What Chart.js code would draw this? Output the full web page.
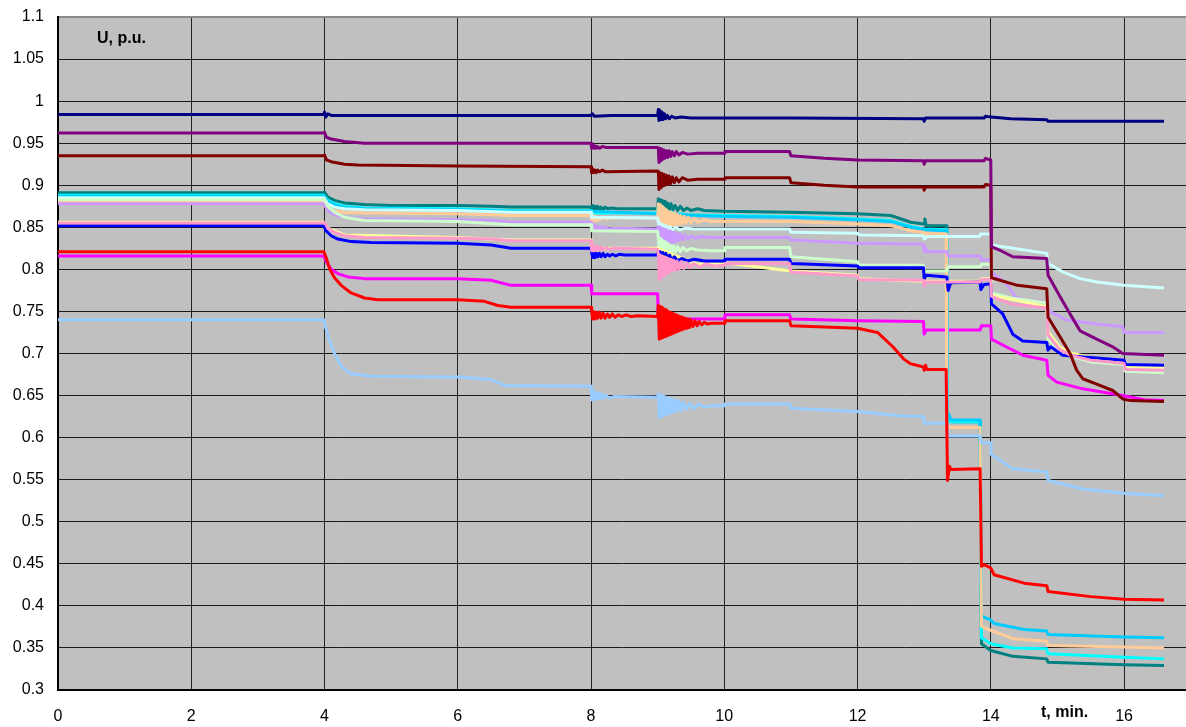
<!DOCTYPE html>
<html>
<head>
<meta charset="utf-8">
<script src="https://cdn.jsdelivr.net/npm/chart.js@4.4.1/dist/chart.umd.min.js"></script>
<style>
  html, body { margin: 0; padding: 0; background: #ffffff; }
  #wrap { width: 1186px; height: 727px; position: relative; }
  canvas { display: block; }
</style>
</head>
<body>
<div id="wrap"><canvas id="chart" width="1186" height="727"></canvas></div>
<script>
// Voltage trajectories U (p.u.) versus time t (min) at sixteen network nodes.
// Each array holds [t, U] pairs; the dense stretches after t = 8 and t = 9
// are the electromechanical swings that follow each switching event.

const yTitle = 'U, p.u.';
const xTitle = 't, min.';
const xTicks = [0, 2, 4, 6, 8, 10, 12, 14, 16];
const yTicks = [0.3, 0.35, 0.4, 0.45, 0.5, 0.55, 0.6, 0.65, 0.7, 0.75, 0.8, 0.85, 0.9, 0.95, 1, 1.05, 1.1];

const nodeNavy = [[0,0.984],[3.99,0.984],[4.0,0.987],[4.02,0.981],[4.05,0.985],[4.1,0.983],[8.0,0.983],[8.02,0.985],[8.05,0.982],[8.3,0.983],
  [9.000,0.983],[9.010,0.990],[9.020,0.977],[9.035,0.989],[9.050,0.978],[9.065,0.987],[9.080,0.978],[9.100,0.985],[9.120,0.979],[9.145,0.983],[9.175,0.979],[9.210,0.982],[9.260,0.980],[9.350,0.981],[9.500,0.980],
  [11,0.980],[12.99,0.979],[13.0,0.976],[13.02,0.980],[13.9,0.980],[13.92,0.982],[14.0,0.981],[14.3,0.979],[14.84,0.978],[14.86,0.976],[16.6,0.976]];

const nodePurple = [[0,0.962],[3.99,0.962],[4.0,0.963],[4.03,0.957],[4.1,0.955],[4.3,0.952],[4.6,0.950],
  [8.0,0.950],[8.01,0.944],[8.025,0.948],[8.04,0.944],[8.06,0.947],[8.08,0.944],[8.1,0.946],[8.13,0.944],[8.17,0.946],[8.22,0.945],
  [9.000,0.945],[9.010,0.944],[9.020,0.927],[9.035,0.944],[9.050,0.929],[9.065,0.943],[9.080,0.931],[9.095,0.942],[9.110,0.932],[9.130,0.941],[9.150,0.933],[9.170,0.941],[9.195,0.934],[9.220,0.940],[9.250,0.935],[9.280,0.940],[9.320,0.936],[9.370,0.939],[9.450,0.937],[9.600,0.938],
  [10.0,0.938],[10.01,0.940],[10.98,0.940],[11.0,0.935],[11.5,0.932],[12,0.930],[12.99,0.929],[13.0,0.925],[13.02,0.929],[13.9,0.929],[13.92,0.932],[14.0,0.930],
  [14.01,0.827],[14.13,0.823],[14.33,0.815],[14.84,0.813],[14.86,0.793],[15.03,0.769],[15.19,0.747],[15.34,0.727],[15.59,0.717],[15.83,0.708],[15.98,0.700],[16.6,0.698]];

const nodeMaroon = [[0,0.935],[3.99,0.935],[4.0,0.936],[4.03,0.930],[4.1,0.928],[4.3,0.925],[4.5,0.924],[6,0.923],
  [8,0.922],[8.01,0.915],[8.025,0.919],[8.04,0.915],[8.06,0.918],[8.08,0.915],[8.1,0.918],[8.13,0.916],[8.17,0.918],[8.22,0.916],
  [9.000,0.917],[9.010,0.916],[9.020,0.895],[9.035,0.915],[9.050,0.897],[9.065,0.914],[9.080,0.899],[9.095,0.913],[9.110,0.900],[9.130,0.912],[9.150,0.901],[9.170,0.911],[9.195,0.902],[9.220,0.910],[9.250,0.903],[9.280,0.909],[9.320,0.904],[9.370,0.909],[9.450,0.906],[9.600,0.907],
  [10,0.907],[10.01,0.909],[10.98,0.909],[11.0,0.903],[11.5,0.900],[12,0.898],[12.99,0.898],[13.0,0.894],[13.02,0.898],[13.9,0.898],[13.92,0.901],[14.0,0.900],
  [14.01,0.790],[14.4,0.781],[14.84,0.777],[14.86,0.743],[15.03,0.721],[15.19,0.700],[15.29,0.680],[15.38,0.670],[15.58,0.664],[15.83,0.656],[15.98,0.646],[16.1,0.644],[16.6,0.643]];

const nodeTeal = [[0,0.891],[3.99,0.891],[4.0,0.892],[4.05,0.886],[4.15,0.882],[4.3,0.879],[4.6,0.877],[5,0.876],[6,0.876],[6.5,0.875],[6.8,0.874],
  [8.0,0.874],[8.01,0.870],[8.025,0.876],[8.04,0.870],[8.06,0.875],[8.08,0.871],[8.1,0.875],[8.125,0.871],[8.15,0.874],[8.18,0.871],[8.21,0.874],[8.25,0.872],[8.3,0.873],[8.4,0.872],
  [9.000,0.872],[9.010,0.884],[9.025,0.873],[9.040,0.883],[9.055,0.873],[9.070,0.882],[9.090,0.872],[9.110,0.881],[9.130,0.872],[9.150,0.879],[9.175,0.871],[9.200,0.878],[9.230,0.871],[9.260,0.876],[9.300,0.870],[9.340,0.875],[9.390,0.870],[9.440,0.873],[9.500,0.870],[9.600,0.872],[9.700,0.870],
  [10,0.869],[11,0.868],[12,0.866],[12.5,0.864],[12.8,0.856],[13.0,0.854],[13.01,0.860],[13.03,0.852],[13.34,0.852],
  [13.35,0.620],[13.37,0.626],[13.4,0.619],[13.84,0.619],[13.86,0.355],[14.0,0.347],[14.33,0.340],[14.84,0.337],[14.86,0.333],[16.0,0.330],[16.6,0.329]];

const nodeCyan = [[0,0.888],[3.99,0.888],[4.05,0.882],[4.15,0.878],[4.3,0.875],[4.6,0.873],[6,0.872],[6.8,0.870],[8,0.870],[8.01,0.867],[8.3,0.867],
  [9.000,0.867],[9.010,0.875],[9.030,0.864],[9.050,0.874],[9.070,0.864],[9.090,0.872],[9.115,0.864],[9.140,0.870],[9.170,0.864],[9.210,0.868],[9.260,0.864],[9.330,0.866],[9.450,0.865],
  [10,0.864],[11,0.863],[12,0.860],[12.5,0.858],[12.8,0.851],[13.0,0.848],[13.34,0.847],
  [13.35,0.619],[13.84,0.619],[13.86,0.362],[14.0,0.355],[14.33,0.350],[14.84,0.349],[14.86,0.343],[16.0,0.339],[16.6,0.337]];

const nodeSky = [[0,0.887],[3.99,0.887],[4.05,0.881],[4.15,0.877],[4.3,0.874],[4.6,0.872],[6,0.871],[6.8,0.869],[8,0.869],[9,0.866],[9.6,0.864],[10,0.863],[11,0.862],[12,0.859],[12.5,0.857],[12.8,0.850],[13.0,0.847],[13.34,0.846],
  [13.35,0.620],[13.37,0.628],[13.4,0.621],[13.84,0.621],[13.86,0.388],[14.0,0.383],[14.05,0.379],[14.5,0.372],[14.84,0.370],[14.86,0.366],[16.0,0.363],[16.6,0.362]];

const nodePeach = [[0,0.881],[3.99,0.881],[4.0,0.884],[4.03,0.872],[4.1,0.870],[4.3,0.868],[4.6,0.867],[6,0.866],[6.5,0.865],[6.8,0.864],
  [8.0,0.864],[8.01,0.857],[8.025,0.864],[8.04,0.857],[8.06,0.863],[8.08,0.858],[8.1,0.862],[8.13,0.859],[8.17,0.862],[8.22,0.860],[8.3,0.861],
  [9.000,0.861],[9.010,0.878],[9.025,0.846],[9.040,0.877],[9.055,0.847],[9.070,0.875],[9.085,0.848],[9.100,0.873],[9.115,0.849],[9.130,0.871],[9.145,0.850],[9.160,0.869],[9.175,0.851],[9.190,0.868],[9.205,0.852],[9.220,0.867],[9.240,0.853],[9.260,0.866],[9.280,0.853],[9.300,0.865],[9.320,0.854],[9.345,0.864],[9.370,0.854],[9.400,0.863],[9.430,0.855],[9.460,0.862],[9.500,0.855],[9.550,0.861],[9.600,0.856],[9.700,0.859],[9.800,0.857],
  [10,0.857],[11,0.857],[12,0.854],[12.5,0.852],[12.8,0.846],[12.99,0.844],[13.0,0.838],[13.02,0.843],[13.33,0.842],
  [13.34,0.612],[13.84,0.612],[13.86,0.376],[14.0,0.371],[14.33,0.361],[14.84,0.358],[14.86,0.353],[16.0,0.351],[16.6,0.350]];

const nodeLightCyan = [[0,0.885],[3.99,0.885],[4.05,0.878],[4.15,0.874],[4.3,0.872],[4.6,0.871],[6,0.870],[6.8,0.868],[8,0.868],[8.01,0.862],
  [9.000,0.861],[9.010,0.857],[9.025,0.844],[9.040,0.855],[9.060,0.845],[9.080,0.853],[9.100,0.846],[9.125,0.852],[9.150,0.846],[9.180,0.851],[9.220,0.847],[9.270,0.850],[9.330,0.847],[9.420,0.849],[9.550,0.848],
  [10,0.848],[10.98,0.848],[11.0,0.844],[12,0.843],[12.02,0.841],[12.99,0.840],[13.0,0.836],[13.05,0.839],[13.83,0.839],[13.85,0.842],[14.0,0.842],
  [14.01,0.829],[14.84,0.819],[14.86,0.807],[15.08,0.797],[15.34,0.789],[15.59,0.785],[16.0,0.781],[16.6,0.778]];

const nodeLavender = [[0,0.878],[3.99,0.878],[4.05,0.870],[4.15,0.865],[4.3,0.862],[4.6,0.860],[6,0.859],[6.5,0.858],[6.8,0.856],
  [8.0,0.856],[8.01,0.847],[8.025,0.853],[8.04,0.847],[8.06,0.852],[8.08,0.847],[8.1,0.851],[8.125,0.847],[8.15,0.851],[8.18,0.848],[8.22,0.850],[8.27,0.848],[8.35,0.849],
  [9.000,0.848],[9.010,0.851],[9.025,0.826],[9.040,0.850],[9.055,0.827],[9.070,0.849],[9.085,0.828],[9.100,0.848],[9.115,0.829],[9.130,0.847],[9.145,0.830],[9.160,0.846],[9.180,0.831],[9.200,0.845],[9.220,0.832],[9.240,0.844],[9.260,0.833],[9.285,0.843],[9.310,0.834],[9.340,0.842],[9.370,0.835],[9.410,0.841],[9.450,0.836],[9.500,0.840],[9.560,0.837],[9.650,0.839],[9.750,0.838],
  [10,0.838],[10.98,0.838],[11.0,0.835],[12,0.831],[12.99,0.830],[13.0,0.821],[13.02,0.826],[13.04,0.821],[13.34,0.821],[13.36,0.816],[13.84,0.816],[13.86,0.811],[14.0,0.811],
  [14.01,0.797],[14.23,0.783],[14.38,0.767],[14.53,0.763],[14.84,0.761],[14.86,0.751],[15.13,0.740],[15.58,0.735],[15.98,0.732],[16.0,0.725],[16.6,0.725]];

const nodeLightGreen = [[0,0.883],[3.99,0.883],[4.05,0.875],[4.15,0.868],[4.3,0.862],[4.6,0.858],[6,0.857],[6.8,0.853],[8,0.853],[8.01,0.846],
  [9.000,0.845],[9.010,0.838],[9.025,0.817],[9.040,0.837],[9.055,0.818],[9.070,0.835],[9.090,0.819],[9.110,0.833],[9.130,0.819],[9.150,0.831],[9.170,0.820],[9.190,0.829],[9.215,0.820],[9.240,0.828],[9.270,0.821],[9.300,0.827],[9.340,0.821],[9.380,0.826],[9.430,0.822],[9.500,0.825],[9.600,0.823],[9.800,0.822],
  [10,0.822],[10.01,0.826],[10.98,0.826],[11.0,0.815],[11.5,0.812],[12,0.809],[12.02,0.805],[12.99,0.805],[13.0,0.798],[13.34,0.798],[13.36,0.803],[13.84,0.803],[13.86,0.806],[14.0,0.806],
  [14.01,0.772],[14.3,0.766],[14.84,0.760],[14.86,0.717],[15.03,0.703],[15.19,0.697],[15.5,0.690],[16.0,0.687],[16.02,0.679],[16.6,0.677]];

const nodePink = [[0,0.855],[3.99,0.855],[4.0,0.856],[4.05,0.849],[4.15,0.844],[4.3,0.840],[4.6,0.838],[6,0.837],[6.5,0.836],[6.8,0.834],
  [8.0,0.834],[8.01,0.822],[8.025,0.829],[8.04,0.822],[8.06,0.828],[8.08,0.823],[8.1,0.827],[8.125,0.823],[8.15,0.827],[8.18,0.823],[8.22,0.826],[8.27,0.824],[8.35,0.825],
  [9.000,0.824],[9.010,0.818],[9.025,0.788],[9.040,0.817],[9.055,0.790],[9.070,0.816],[9.085,0.792],[9.100,0.815],[9.115,0.794],[9.130,0.814],[9.145,0.795],[9.160,0.813],[9.180,0.797],[9.200,0.812],[9.220,0.798],[9.240,0.811],[9.265,0.799],[9.290,0.810],[9.320,0.800],[9.350,0.809],[9.390,0.801],[9.430,0.808],[9.480,0.802],[9.540,0.807],[9.620,0.803],[9.720,0.806],[9.850,0.804],
  [10,0.805],[10.01,0.807],[10.98,0.807],[11.0,0.797],[12,0.792],[12.02,0.788],[12.99,0.787],[13.0,0.780],[13.02,0.785],[13.84,0.785],[13.86,0.788],[14.0,0.788],
  [14.01,0.768],[14.3,0.759],[14.84,0.754],[14.86,0.722],[15.03,0.705],[15.19,0.698],[15.5,0.692],[16.0,0.688],[16.02,0.681],[16.6,0.680]];

const nodeYellow = [[0,0.856],[3.99,0.856],[4.05,0.849],[4.3,0.841],[6,0.838],[6.8,0.835],[8,0.835],[8.01,0.825],[9,0.825],[9.6,0.806],[10,0.806],[10.01,0.808],[11,0.798],[12,0.793],[12.02,0.789],[13,0.786],[13.84,0.786],[13.86,0.789],[14,0.789],
  [14.01,0.769],[14.84,0.756],[14.86,0.726],[15.03,0.708],[15.19,0.701],[15.5,0.695],[16.0,0.691],[16.02,0.684],[16.6,0.683]];

const nodeBlue = [[0,0.852],[3.99,0.852],[4.02,0.846],[4.1,0.840],[4.2,0.836],[4.4,0.833],[4.7,0.832],[6,0.831],[6.5,0.829],[6.8,0.825],
  [8.000,0.825],[8.010,0.820],[8.025,0.814],[8.040,0.820],[8.060,0.814],[8.080,0.819],[8.100,0.815],[8.125,0.819],[8.150,0.815],[8.180,0.819],[8.210,0.815],[8.245,0.818],[8.280,0.816],[8.320,0.818],[8.370,0.816],[8.430,0.818],[8.500,0.817],
  [9.000,0.817],[9.010,0.822],[9.025,0.812],[9.040,0.821],[9.060,0.811],[9.080,0.820],[9.100,0.810],[9.125,0.819],[9.150,0.810],[9.180,0.817],[9.210,0.810],[9.250,0.815],[9.300,0.810],[9.360,0.813],[9.450,0.810],[9.550,0.812],[9.700,0.810],
  [10,0.810],[10.01,0.812],[10.98,0.812],[11.0,0.807],[12,0.804],[12.02,0.802],[12.99,0.802],[13.0,0.789],[13.03,0.793],[13.34,0.791],[13.36,0.775],[13.4,0.784],[13.84,0.785],[13.85,0.776],[13.9,0.782],[14.0,0.783],
  [14.01,0.759],[14.18,0.747],[14.33,0.723],[14.48,0.715],[14.84,0.713],[14.86,0.704],[14.9,0.708],[15.08,0.698],[16.0,0.692],[16.02,0.687],[16.6,0.686]];

const nodeMagenta = [[0,0.816],[3.99,0.816],[4.02,0.810],[4.1,0.800],[4.2,0.795],[4.35,0.791],[4.6,0.789],[6,0.789],[6.5,0.787],[6.8,0.781],[8,0.781],[8.01,0.771],[9,0.771],[9.01,0.741],[10,0.741],[10.01,0.746],[10.98,0.746],[11.0,0.741],[12,0.739],[12.99,0.738],[13.0,0.723],[13.03,0.728],[13.84,0.728],[13.86,0.733],[14.0,0.733],
  [14.01,0.717],[14.23,0.708],[14.48,0.698],[14.84,0.692],[14.86,0.674],[14.99,0.666],[15.38,0.658],[15.98,0.650],[16.3,0.645],[16.6,0.644]];

const nodeRed = [[0,0.821],[3.99,0.821],[4.02,0.815],[4.08,0.800],[4.15,0.790],[4.25,0.781],[4.4,0.772],[4.6,0.766],[4.8,0.764],[6,0.764],[6.4,0.762],[6.6,0.757],[6.8,0.755],
  [8.000,0.755],[8.010,0.750],[8.025,0.741],[8.040,0.750],[8.060,0.741],[8.080,0.749],[8.100,0.742],[8.125,0.749],[8.150,0.742],[8.180,0.748],[8.210,0.742],[8.245,0.747],[8.280,0.743],[8.320,0.747],[8.360,0.743],[8.410,0.746],[8.460,0.744],[8.530,0.746],[8.600,0.744],[8.700,0.745],
  [9.000,0.744],[9.010,0.757],[9.025,0.717],[9.040,0.756],[9.055,0.718],[9.070,0.755],[9.085,0.719],[9.100,0.753],[9.115,0.720],[9.130,0.752],[9.145,0.721],[9.160,0.750],[9.175,0.722],[9.190,0.749],[9.205,0.723],[9.220,0.748],[9.235,0.724],[9.250,0.747],[9.265,0.725],[9.280,0.746],[9.295,0.726],[9.310,0.745],[9.325,0.727],[9.340,0.744],[9.360,0.728],[9.380,0.743],[9.400,0.729],[9.420,0.742],[9.440,0.730],[9.460,0.741],[9.480,0.731],[9.500,0.740],[9.530,0.732],[9.560,0.739],[9.590,0.733],[9.620,0.738],[9.660,0.734],[9.700,0.737],[9.750,0.735],[9.800,0.736],
  [10,0.736],[10.01,0.739],[10.98,0.739],[11.0,0.733],[12,0.730],[12.3,0.725],[12.53,0.708],[12.7,0.693],[12.79,0.688],[12.99,0.684],[13.0,0.680],[13.02,0.686],[13.04,0.681],[13.33,0.681],
  [13.35,0.549],[13.38,0.566],[13.4,0.562],[13.84,0.563],[13.86,0.447],[13.9,0.449],[14.0,0.445],[14.05,0.437],[14.5,0.427],[14.84,0.424],[14.86,0.417],[15.5,0.411],[16.0,0.408],[16.6,0.407]];

const nodeLightSky = [[0,0.740],[3.99,0.740],[4.02,0.730],[4.08,0.715],[4.15,0.700],[4.25,0.685],[4.4,0.676],[4.7,0.673],[6,0.672],[6.5,0.669],[6.7,0.662],
  [8.0,0.661],[8.01,0.645],[8.025,0.655],[8.04,0.645],[8.06,0.654],[8.08,0.646],[8.1,0.653],[8.125,0.646],[8.15,0.652],[8.18,0.647],[8.22,0.651],[8.27,0.647],[8.35,0.649],
  [9.000,0.648],[9.010,0.652],[9.025,0.624],[9.040,0.651],[9.055,0.625],[9.070,0.650],[9.085,0.626],[9.100,0.649],[9.115,0.627],[9.130,0.648],[9.150,0.628],[9.170,0.647],[9.190,0.629],[9.210,0.646],[9.235,0.630],[9.260,0.645],[9.290,0.631],[9.320,0.644],[9.350,0.632],[9.390,0.642],[9.430,0.633],[9.480,0.641],[9.540,0.634],[9.610,0.640],[9.700,0.636],[9.800,0.638],
  [10,0.638],[10.01,0.640],[10.98,0.640],[11.0,0.635],[12,0.631],[12.64,0.626],[12.99,0.625],[13.0,0.617],[13.34,0.617],[13.36,0.602],[13.84,0.602],[13.86,0.594],[14.0,0.594],
  [14.01,0.580],[14.33,0.563],[14.84,0.559],[14.86,0.549],[15.38,0.539],[16.0,0.534],[16.6,0.531]];

// Listed top-most first (Chart.js paints index 0 last).
const series = [
  { data: nodeNavy,       color: '#000080', width: 3 },
  { data: nodePurple,     color: '#800080', width: 3 },
  { data: nodeMaroon,     color: '#800000', width: 3 },
  { data: nodeRed,        color: '#FF0000', width: 3 },
  { data: nodeLightSky,   color: '#99CCFF', width: 3 },
  { data: nodePink,       color: '#FF99CC', width: 3 },
  { data: nodeBlue,       color: '#0000FF', width: 3 },
  { data: nodeYellow,     color: '#FFFF99', width: 3 },
  { data: nodeLightGreen, color: '#CCFFCC', width: 3 },
  { data: nodeLavender,   color: '#CC99FF', width: 3 },
  { data: nodeLightCyan,  color: '#CCFFFF', width: 3 },
  { data: nodePeach,      color: '#FFCC99', width: 3 },
  { data: nodeSky,        color: '#00CCFF', width: 3 },
  { data: nodeCyan,       color: '#00FFFF', width: 3 },
  { data: nodeTeal,       color: '#008080', width: 3 },
  { data: nodeMagenta,    color: '#FF00FF', width: 3 }
];

const plotBackground = {
  id: 'plotBackground',
  beforeDraw(chart) {
    const { ctx, chartArea } = chart;
    ctx.save();
    ctx.fillStyle = '#C0C0C0';
    ctx.fillRect(chartArea.left, chartArea.top, chartArea.right - chartArea.left, chartArea.bottom - chartArea.top);
    ctx.restore();
  }
};

const axisCaptions = {
  id: 'axisCaptions',
  afterDraw(chart) {
    const { ctx, chartArea } = chart;
    ctx.save();
    ctx.fillStyle = '#000000';
    ctx.font = 'bold 16px "Liberation Sans", Arial, sans-serif';
    ctx.textAlign = 'left';
    ctx.textBaseline = 'alphabetic';
    ctx.fillText(yTitle, chartArea.left + 39, chartArea.top + 26);
    ctx.fillText(xTitle, chartArea.left + 983, chartArea.bottom + 27);
    ctx.restore();
  }
};

const fontTicks = { family: '"Liberation Sans", Arial, sans-serif', size: 16 };
const fmt = v => String(parseFloat(Number(v).toFixed(2)));

new Chart(document.getElementById('chart'), {
  type: 'line',
  data: {
    datasets: series.map(s => ({
      data: s.data.map(([t, u]) => ({ x: t, y: u })),
      borderColor: s.color,
      backgroundColor: s.color,
      borderWidth: s.width,
      pointRadius: 0,
      pointHoverRadius: 0,
      tension: 0,
      fill: false,
      borderJoinStyle: 'round'
    }))
  },
  options: {
    responsive: false,
    animation: false,
    events: [],
    layout: { padding: { top: 17, left: 0, right: 0, bottom: 0 } },
    plugins: { legend: { display: false }, tooltip: { enabled: false }, title: { display: false } },
    scales: {
      x: {
        type: 'linear',
        min: 0,
        max: 16.93,
        afterFit(scale) { scale.height = 37; scale.paddingLeft = 0; scale.paddingRight = 0; },
        afterBuildTicks(scale) { scale.ticks = xTicks.map(v => ({ value: v })); },
        ticks: { includeBounds: false, autoSkip: false, maxRotation: 0, padding: 17, color: '#000', font: fontTicks, callback: v => fmt(v) },
        grid: { color: '#222222', lineWidth: 1, drawTicks: false },
        border: { display: true, color: '#000000', width: 2 }
      },
      y: {
        type: 'linear',
        min: 0.3,
        max: 1.1,
        afterFit(scale) { scale.width = 58; scale.paddingTop = 0; scale.paddingBottom = 0; },
        afterBuildTicks(scale) { scale.ticks = yTicks.map(v => ({ value: v })); },
        ticks: { autoSkip: false, padding: 14, color: '#000', font: fontTicks, callback: v => fmt(v) },
        grid: {
          drawTicks: false,
          color: c => (c.tick && Math.abs(c.tick.value - 1.1) < 1e-6) ? '#8a8a8a' : '#1a1a1a',
          lineWidth: c => (c.tick && Math.abs(c.tick.value - 1.1) < 1e-6) ? 2 : 1
        },
        border: { display: true, color: '#000000', width: 2 }
      }
    }
  },
  plugins: [plotBackground, axisCaptions]
});
</script>
</body>
</html>
